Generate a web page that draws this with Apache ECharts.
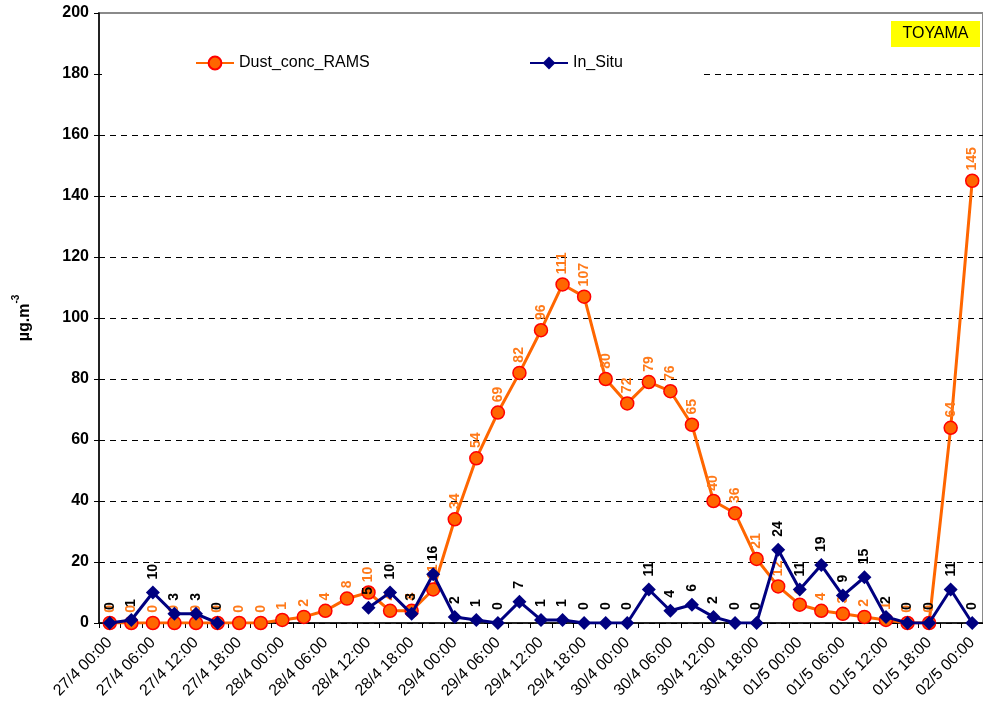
<!DOCTYPE html>
<html>
<head>
<meta charset="utf-8">
<script src="https://cdn.jsdelivr.net/npm/echarts@6/dist/echarts.min.js"></script>
<style>
  html, body { margin: 0; padding: 0; background: #fff; }
  #chart { width: 983px; height: 710px; }
</style>
</head>
<body>
<div id="chart"></div>
<script>
// 3-hourly time steps, 27 April 00:00 to 2 May 00:00
const categories = [
  '27/4 00:00', '27/4 03:00', '27/4 06:00', '27/4 09:00', '27/4 12:00', '27/4 15:00', '27/4 18:00', '27/4 21:00',
  '28/4 00:00', '28/4 03:00', '28/4 06:00', '28/4 09:00', '28/4 12:00', '28/4 15:00', '28/4 18:00', '28/4 21:00',
  '29/4 00:00', '29/4 03:00', '29/4 06:00', '29/4 09:00', '29/4 12:00', '29/4 15:00', '29/4 18:00', '29/4 21:00',
  '30/4 00:00', '30/4 03:00', '30/4 06:00', '30/4 09:00', '30/4 12:00', '30/4 15:00', '30/4 18:00', '30/4 21:00',
  '01/5 00:00', '01/5 03:00', '01/5 06:00', '01/5 09:00', '01/5 12:00', '01/5 15:00', '01/5 18:00', '01/5 21:00',
  '02/5 00:00'
];

// Modelled dust concentration (µg/m3)
const dustConcRams = [
  0, 0, 0, 0, 0, 0, 0, 0,
  1, 2, 4, 8, 10, 4, 4, 11,
  34, 54, 69, 82, 96, 111, 107, 80,
  72, 79, 76, 65, 40, 36, 21, 12,
  6, 4, 3, 2, 1, 0, 0, 64,
  145
];

// Observed concentration (µg/m3); null = no measurement
const inSitu = [
  0, 1, 10, 3, 3, 0, null, null,
  null, null, null, null, 5, 10, 3, 16,
  2, 1, 0, 7, 1, 1, 0, 0,
  0, 11, 4, 6, 2, 0, 0, 24,
  11, 19, 9, 15, 2, 0, 0, 11,
  0
];

const yTicks = { min: 0, max: 200, interval: 20 };

const FONT = 'Liberation Sans, Arial, sans-serif';
const ORANGE = '#FF6600';
const NAVY = '#000080';

const chart = echarts.init(document.getElementById('chart'), null, { renderer: 'canvas' });

const legendBase = {
  top: 55, padding: 0,
  itemWidth: 38, itemHeight: 16, itemGap: 4,
  textStyle: { fontFamily: FONT, fontSize: 16, color: '#000' }
};

chart.setOption({
  animation: false,
  backgroundColor: '#ffffff',
  textStyle: { fontFamily: FONT },
  grid: {
    left: 99, top: 13, width: 890, bottom: 87,
    show: true, borderColor: '#8a8a8a', borderWidth: 2, backgroundColor: 'transparent'
  },
  legend: [
    Object.assign({}, legendBase, { data: ['Dust_conc_RAMS'], left: 195 }),
    Object.assign({}, legendBase, { data: ['In_Situ'], left: 529 })
  ],
  graphic: [
    {
      type: 'rect', z: 1,
      shape: { x: 102, y: 22, width: 601, height: 88 },
      style: { fill: '#ffffff' }
    },
    {
      type: 'rect', z: 5,
      shape: { x: 891, y: 21, width: 89, height: 26 },
      style: { fill: '#FFFF00' }
    },
    {
      type: 'text', z: 6,
      x: 935.5, y: 34,
      style: {
        text: 'TOYAMA', fill: '#000', font: '16px ' + FONT,
        align: 'center', verticalAlign: 'middle'
      }
    }
  ],
  xAxis: {
    type: 'category',
    data: categories,
    boundaryGap: true,
    axisLine: { lineStyle: { color: '#000', width: 1.5 } },
    axisTick: { show: true, interval: 0, length: 5, lineStyle: { color: '#000' } },
    axisLabel: {
      interval: 1, rotate: 45, margin: 17,
      fontFamily: FONT, fontSize: 16, color: '#000'
    },
    splitLine: { show: false }
  },
  yAxis: {
    type: 'value',
    min: yTicks.min, max: yTicks.max, interval: yTicks.interval,
    name: '{a|µg.m}{b|-3}',
    nameLocation: 'middle',
    nameRotate: 90,
    nameGap: 66,
    nameTextStyle: {
      rich: {
        a: { fontFamily: FONT, fontSize: 16, fontWeight: 'bold', color: '#000', lineHeight: 22, verticalAlign: 'bottom' },
        b: { fontFamily: FONT, fontSize: 10, fontWeight: 'bold', color: '#000', lineHeight: 22, verticalAlign: 'top' }
      }
    },
    axisLine: { show: true, lineStyle: { color: '#000', width: 1.5 } },
    axisTick: { show: true, length: 5, lineStyle: { color: '#000' } },
    axisLabel: { fontFamily: FONT, fontSize: 16, fontWeight: 'bold', color: '#000', margin: 10 },
    splitLine: {
      show: true, showMaxLine: false,
      lineStyle: { color: '#000', width: 1, type: [6, 5] }
    }
  },
  series: [
    {
      name: 'Dust_conc_RAMS',
      type: 'line',
      data: dustConcRams,
      z: 2,
      symbol: 'circle',
      symbolSize: 13,
      lineStyle: { color: ORANGE, width: 3 },
      itemStyle: { color: ORANGE, borderColor: '#FF0000', borderWidth: 1.5 },
      label: {
        show: true, position: 'top', rotate: 90, distance: 3,
        align: 'left', verticalAlign: 'middle',
        fontFamily: FONT, fontSize: 14, fontWeight: 'bold', color: '#FF7A1A'
      }
    },
    {
      name: 'In_Situ',
      type: 'line',
      data: inSitu,
      z: 3,
      connectNulls: false,
      symbol: 'diamond',
      symbolSize: 14,
      lineStyle: { color: NAVY, width: 3 },
      itemStyle: { color: NAVY, borderColor: NAVY, borderWidth: 0 },
      label: {
        show: true, position: 'top', rotate: 90, distance: 6,
        align: 'left', verticalAlign: 'middle',
        fontFamily: FONT, fontSize: 14, fontWeight: 'bold', color: '#000'
      }
    }
  ]
});
</script>
</body>
</html>
